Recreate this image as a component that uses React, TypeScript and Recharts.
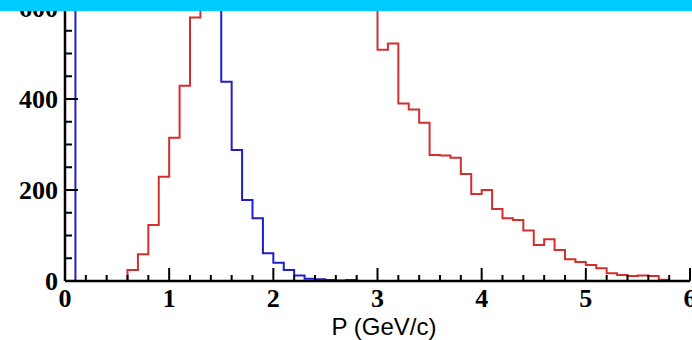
import { LineChart, Line, XAxis, YAxis, Label } from "recharts";

// histogram bins are 0.1 GeV/c wide
const binWidth = 0.1;

// blue: first bin starts at 0.0; bins 0.1-1.4 run off the top of the frame (estimated)
const blueStart = 0.0;
const blueCounts = [
  0, 900, 1400, 1700, 1850, 1900, 1850, 1750, 1600, 1450, 1300, 1150, 1000, 850, 700,
  438, 288, 178, 138, 61, 40, 24, 12, 5, 4, 2, 1, 2,
  0, 0, 0, 0, 0, 0, 0, 0, 0, 0, 0, 0, 0, 0, 0, 0, 0, 0, 0, 0, 0, 0, 0, 0, 0, 0, 0, 0, 0, 0, 0, 0,
];

// red: starts at 0.1; bins 1.3-2.9 run off the top of the frame (estimated)
const redStart = 0.1;
const redCounts = [
  0, 0, 0, 0, 0, 24, 59, 123, 229, 315, 429, 579,
  680, 760, 830, 880, 910, 920, 915, 900, 875, 845, 810, 775, 740, 710, 680, 655, 630,
  508, 522, 390, 377, 348, 277, 276, 271, 235, 191, 200, 158, 138, 134, 111, 79, 92,
  68, 48, 42, 35, 28, 17, 13, 11, 12, 11, 3,
];

const xTicks = [0, 0.2, 0.4, 0.6, 0.8, 1, 1.2, 1.4, 1.6, 1.8, 2, 2.2, 2.4, 2.6, 2.8, 3, 3.2, 3.4, 3.6, 3.8, 4, 4.2, 4.4, 4.6, 4.8, 5, 5.2, 5.4, 5.6, 5.8, 6];
const yTicks = [0, 50, 100, 150, 200, 250, 300, 350, 400, 450, 500, 550, 600];
const xLabels = [0, 1, 2, 3, 4, 5, 6];
const yLabels = [0, 200, 400, 600];

const toSteps = (start: number, counts: number[]) => {
  const pts = counts.map((n, i) => ({ p: Math.round((start + i * binWidth) * 10) / 10, n }));
  pts.push({ p: Math.round((start + counts.length * binWidth) * 10) / 10, n: 0 });
  return pts;
};

const blueData = toSteps(blueStart, blueCounts);
const redData = toSteps(redStart, redCounts);

const tickFont = { fontFamily: "'Liberation Serif', serif", fontWeight: 700, fontSize: 26 };

const XTick = (props: any) => {
  const { x, y, payload } = props;
  const major = xLabels.includes(payload.value);
  return (
    <g>
      <line x1={x} y1={y} x2={x} y2={y - (major ? 13 : 6)} stroke="#000" strokeWidth={2} />
      {major && (
        <text x={x} y={y + 26} textAnchor="middle" fill="#000" style={tickFont}>
          {payload.value}
        </text>
      )}
    </g>
  );
};

const YTick = (props: any) => {
  const { x, y, payload } = props;
  const major = yLabels.includes(payload.value);
  return (
    <g>
      <line x1={x} y1={y} x2={x + (major ? 13 : 7)} y2={y} stroke="#000" strokeWidth={2} />
      {major && (
        <text x={x - 7} y={y + 9} textAnchor="end" fill="#000" style={tickFont}>
          {payload.value}
        </text>
      )}
    </g>
  );
};

export default function App() {
  return (
    <div style={{ position: "absolute", left: 0, top: 0, width: 692, height: 340, background: "#fff" }}>
      <LineChart width={692} height={340} margin={{ top: 0, right: 2, bottom: 0, left: 0 }}>
        <XAxis
          dataKey="p"
          type="number"
          domain={[0, 6]}
          ticks={xTicks}
          interval={0}
          height={59}
          tickSize={0}
          tickMargin={0}
          tickLine={false}
          tick={XTick}
          axisLine={{ stroke: "#000", strokeWidth: 2.5 }}
          allowDataOverflow
        >
          <Label
            content={() => (
              <text
                x={384}
                y={335}
                textAnchor="middle"
                fill="#000"
                style={{ fontFamily: "'Liberation Sans', Arial, sans-serif", fontSize: 24 }}
              >
                P (GeV/c)
              </text>
            )}
          />
        </XAxis>
        <YAxis
          type="number"
          domain={[0, 617.6]}
          ticks={yTicks}
          interval={0}
          width={65}
          tickSize={0}
          tickMargin={0}
          tickLine={false}
          tick={YTick}
          axisLine={{ stroke: "#000", strokeWidth: 2.5 }}
          allowDataOverflow
        />
        <Line
          data={blueData}
          dataKey="n"
          type="stepAfter"
          stroke="#1f1fc8"
          strokeWidth={2}
          dot={false}
          isAnimationActive={false}
        />
        <Line
          data={redData}
          dataKey="n"
          type="stepAfter"
          stroke="#d42f2f"
          strokeWidth={2}
          dot={false}
          isAnimationActive={false}
        />
      </LineChart>
      <div style={{ position: "absolute", left: 0, top: 0, width: 692, height: 11, background: "#00ccff" }} />
    </div>
  );
}
